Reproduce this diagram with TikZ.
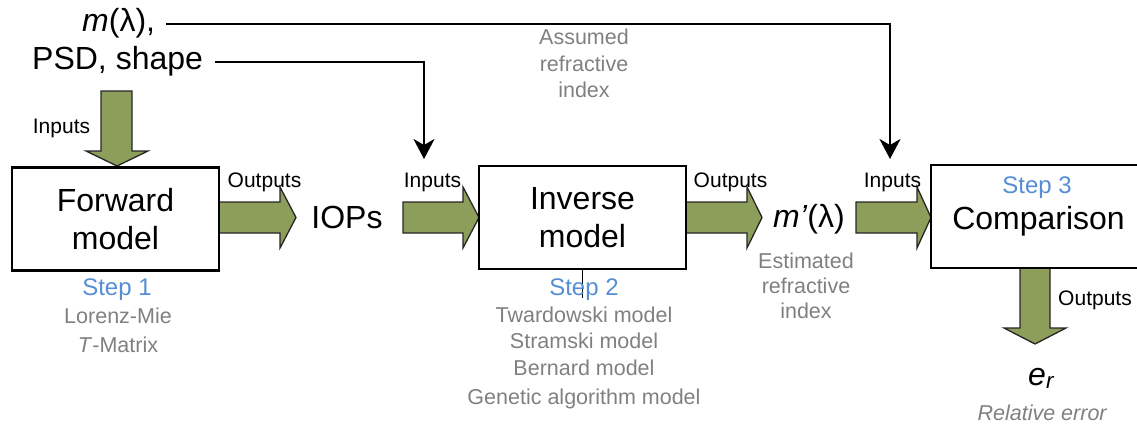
\documentclass[tikz,border=0pt]{standalone}
\usepackage{fontspec}
\setmainfont{Liberation Sans}
\usetikzlibrary{arrows.meta}
\definecolor{blockgreen}{HTML}{8C9E5A}
\definecolor{txtgray}{HTML}{808080}
\definecolor{stepblue}{HTML}{558ED5}
\begin{document}
\begin{tikzpicture}[x=1pt,y=-1pt,
  big/.style={font=\fontsize{32}{38}\selectfont, inner sep=0pt, align=center},
  small/.style={font=\fontsize{21}{25}\selectfont, inner sep=0pt},
  graytxt/.style={font=\fontsize{21.5}{26}\selectfont, text=txtgray, inner sep=0pt},
  steptxt/.style={font=\fontsize{24}{28}\selectfont, text=stepblue, inner sep=0pt},
  box/.style={draw=black, fill=white, line width=2.6pt, minimum width=207pt, minimum height=103pt, inner sep=0pt, font=\fontsize{32}{38}\selectfont, align=center},
  blockarrow/.style={fill=blockgreen, draw=black!85, line width=1.3pt, line join=miter},
  conn/.style={draw=black, line width=2.2pt, -{Stealth[length=20pt,width=21pt,inset=6pt]}},
]
\useasboundingbox (0,0) rectangle (1137,428);

% block arrows (drawn first, boxes overlap them)
\draw[blockarrow] (101,91) -- (132,91) -- (132,151) -- (148,151) -- (117,166) -- (86,151) -- (101,151) -- cycle;
\draw[blockarrow] (219,202) -- (280,202) -- (280,187) -- (296,217.5) -- (280,248) -- (280,233) -- (219,233) -- cycle;
\draw[blockarrow] (403,202) -- (463,202) -- (463,187) -- (479,217.5) -- (463,248) -- (463,233) -- (403,233) -- cycle;
\draw[blockarrow] (686,202) -- (747,202) -- (747,187) -- (762,217.5) -- (747,248) -- (747,233) -- (686,233) -- cycle;
\draw[blockarrow] (856,202) -- (917,202) -- (917,187) -- (931,217.5) -- (917,248) -- (917,233) -- (856,233) -- cycle;
\draw[blockarrow] (1020,268) -- (1050,268) -- (1050,328) -- (1066,328) -- (1035,344) -- (1004,328) -- (1020,328) -- cycle;

% boxes
\node[box] (fwd) at (115.5,219) {Forward\\model};
\node[box] (inv) at (582.5,217.5) {Inverse\\model};
\node[box, minimum width=220pt] (cmp) at (1041,216.5) {};
\node[steptxt, anchor=base] (step3) at (1037,193) {Step 3};
\node[big, anchor=base] (cmptxt) at (1038.5,229.5) {Comparison};

% top inputs
\node[big, anchor=base west] (mlam) at (82,32) {\textit{m}(λ),};
\node[big, anchor=base west] (psd) at (32,70) {PSD, shape};
\coordinate (invIn) at (424,159);
\coordinate (cmpIn) at (890,159);
\draw[conn] ([xshift=11pt]mlam.east) -| (cmpIn);
\draw[conn] ([xshift=12pt]psd.east) -| (invIn);

\node[graytxt, anchor=base] (as1) at (584,45) {Assumed};
\node[graytxt, anchor=base] (as2) at (584,71) {refractive};
\node[graytxt, anchor=base] (as3) at (584,97) {index};

% intermediate quantities
\node[big] (iops) at (347,217.5) {IOPs};
\node[big, anchor=base west] (mprime) at (773,227) {\textit{m’}(λ)};
\node[graytxt, anchor=base] (es1) at (806,268) {Estimated};
\node[graytxt, anchor=base] (es2) at (806,293) {refractive};
\node[graytxt, anchor=base] (es3) at (806,318) {index};

% arrow labels
\node[small, anchor=base] (in1) at (61.5,133) {Inputs};
\node[small, anchor=base] (out1) at (264.5,187) {Outputs};
\node[small, anchor=base] (in2) at (432.5,187) {Inputs};
\node[small, anchor=base] (out2) at (730.5,187) {Outputs};
\node[small, anchor=base] (in3) at (892.5,187) {Inputs};
\node[small, anchor=base] (out3) at (1095,305) {Outputs};

% step descriptions
\node[steptxt, anchor=base] (step1) at (117,295) {Step 1};
\node[graytxt, anchor=base] (lm) at (118,323) {Lorenz-Mie};
\node[graytxt, anchor=base] (tm) at (118,352) {\textit{T}-Matrix};

\draw[line width=1pt] (inv.south) -- ++(0,28);
\node[steptxt, anchor=base] (step2) at (584,295) {Step 2};
\node[graytxt, anchor=base] (tw) at (584,322) {Twardowski model};
\node[graytxt, anchor=base] (st) at (584,348) {Stramski model};
\node[graytxt, anchor=base] (be) at (584,375) {Bernard model};
\node[graytxt, anchor=base] (ga) at (584,404) {Genetic algorithm model};

% output
\node[big, anchor=base west] (er) at (1028,385) {\textit{e}\textsubscript{\textit{r}}};
\node[graytxt, anchor=base] (rel) at (1042.5,420) {\textit{Relative error}};
\end{tikzpicture}
\end{document}
